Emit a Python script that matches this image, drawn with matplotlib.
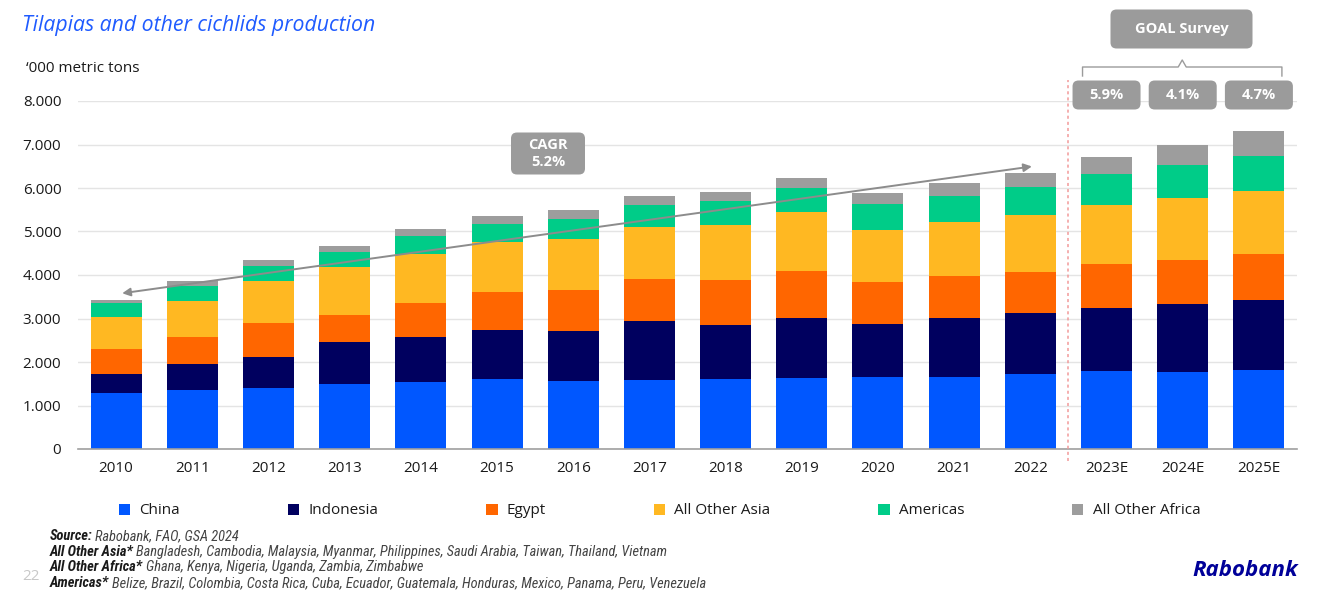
import matplotlib
matplotlib.use("Agg")
import matplotlib.pyplot as plt
from matplotlib import font_manager
from matplotlib.patches import FancyBboxPatch
from matplotlib.lines import Line2D
from matplotlib.transforms import Affine2D
from matplotlib.ticker import FuncFormatter
import numpy as np

W, H = 1340, 606

years = ["2010", "2011", "2012", "2013", "2014", "2015", "2016", "2017",
         "2018", "2019", "2020", "2021", "2022", "2023E", "2024E", "2025E"]
china = [1290, 1350, 1410, 1500, 1535, 1610, 1555, 1580,
         1615, 1640, 1650, 1655, 1730, 1785, 1765, 1815]
indonesia = [440, 610, 710, 950, 1035, 1120, 1155, 1355,
             1230, 1380, 1225, 1355, 1390, 1460, 1565, 1600]
egypt = [570, 605, 770, 630, 775, 880, 935, 970,
         1050, 1080, 960, 975, 955, 1005, 1015, 1060]
other_asia = [735, 840, 970, 1100, 1145, 1155, 1180, 1195,
              1255, 1340, 1195, 1240, 1295, 1370, 1425, 1460]
americas = [320, 340, 340, 345, 415, 405, 460, 505,
            545, 565, 600, 600, 660, 705, 750, 805]
other_africa = [75, 110, 150, 140, 160, 190, 205, 200,
                215, 215, 245, 290, 305, 390, 475, 570]

series_names = ["China", "Indonesia", "Egypt", "All Other Asia", "Americas", "All Other Africa"]
series_colors = ["#0057FF", "#00005F", "#FF6600", "#FFB822", "#00CC88", "#9D9D9D"]

cagr_label = "CAGR\n5.2%"
survey_label = "GOAL Survey"
survey_growth = ["5.9%", "4.1%", "4.7%"]

footer = [
    ("Source:", "Rabobank, FAO, GSA 2024"),
    ("All Other Asia*", "Bangladesh, Cambodia, Malaysia, Myanmar, Philippines, Saudi Arabia, Taiwan, Thailand, Vietnam"),
    ("All Other Africa*", "Ghana, Kenya, Nigeria, Uganda, Zambia, Zimbabwe"),
    ("Americas*", "Belize, Brazil, Colombia, Costa Rica, Cuba, Ecuador, Guatemala, Honduras, Mexico, Panama, Peru, Venezuela"),
]


def pick_font(names):
    for n in names:
        try:
            font_manager.findfont(n, fallback_to_default=False)
            return n
        except ValueError:
            continue
    return "DejaVu Sans"


main_font = pick_font(["Open Sans", "Lato", "DejaVu Sans"])
narrow_font = pick_font(["Liberation Sans Narrow", "Roboto Condensed", "Liberation Sans"])
plt.rcParams["font.family"] = main_font

fig = plt.figure(figsize=(W / 100, H / 100), dpi=100)
# pixel coordinates with the origin at the top-left corner
px = Affine2D().scale(1, -1).translate(0, H)

ax = fig.add_axes([78 / W, 1 - 449 / H, (1297 - 78) / W, (449 - 101) / H])

x = np.arange(len(years))
bottom = np.zeros(len(years))
handles = []
for name, vals, col in zip(series_names,
                           [china, indonesia, egypt, other_asia, americas, other_africa],
                           series_colors):
    b = ax.bar(x, vals, width=0.67, bottom=bottom, color=col, label=name, zorder=3)
    handles.append(b)
    bottom += np.array(vals)

ax.set_xlim(-0.5, len(years) - 0.5)
ax.set_ylim(0, 8000)
ax.set_yticks(range(0, 8001, 1000))
ax.yaxis.set_major_formatter(FuncFormatter(lambda v, p: f"{int(v):,}".replace(",", ".")))
ax.set_xticks(x)
ax.set_xticklabels(years)
ax.tick_params(axis="both", length=0, labelsize=11, colors="#1a1a1a")
ax.tick_params(axis="y", pad=12)
ax.tick_params(axis="x", pad=9)
ax.grid(axis="y", color="#E4E4E4", lw=1, zorder=0)
for s in ["top", "right", "left"]:
    ax.spines[s].set_visible(False)
ax.spines["bottom"].set_color("#A0A0A0")
ax.spines["bottom"].set_linewidth(1.2)
ax.spines["bottom"].set_zorder(4)

# actual / forecast separator
ax.plot([12.5, 12.5], [-270, 8480], color="#F29A9A", lw=1.1, ls=(0, (2, 2)),
        clip_on=False, zorder=5)

# CAGR arrow
ax.annotate("", xy=(0.08, bottom[0] + 150), xytext=(12.02, bottom[12] + 160),
            arrowprops=dict(arrowstyle="<|-|>", color="#8C8C8C", lw=1.4,
                            mutation_scale=12, shrinkA=0, shrinkB=0),
            annotation_clip=False, zorder=6)


def box(cx, cy, w, h, text, size):
    p = FancyBboxPatch((cx - w / 2, cy - h / 2), w, h,
                       boxstyle="round,pad=0,rounding_size=6",
                       transform=px, fc="#9B9B9B", ec="none")
    fig.add_artist(p)
    fig.text(cx, cy, text, transform=px, ha="center", va="center", color="white",
             fontsize=size, fontweight="bold", linespacing=1.3)


box(548, 153.5, 74, 42, cagr_label, 10.5)
box(1181.5, 29, 142, 39, survey_label, 10.5)


def bar_px(i):
    return ax.transData.transform((i, 0))[0]


fc_idx = [13, 14, 15]
for i, lab in zip(fc_idx, survey_growth):
    box(bar_px(i), 95, 68, 29, lab, 10.5)

# brace above the growth boxes
left, right = bar_px(fc_idx[0]) - 24, bar_px(fc_idx[-1]) + 23
mid = (left + right) / 2
brace = Line2D([left, left, mid - 4, mid, mid + 4, right, right],
               [76, 67, 67, 60, 67, 67, 76],
               transform=px, color="#9B9B9B", lw=1.0)
fig.add_artist(brace)

# titles
fig.text(22, 25, "Tilapias and other cichlids production", transform=px,
         ha="left", va="center", fontsize=15.3, style="italic", color="#1F5BFF")
fig.text(26, 68, "\u2018000 metric tons", transform=px, ha="left", va="center",
         fontsize=11, color="#1a1a1a")

# legend
leg = fig.legend(handles=handles, labels=series_names, ncol=6, frameon=False,
                 loc="center left", bbox_to_anchor=(119 / W, 1 - 511 / H),
                 fontsize=11, handlelength=0.75, handleheight=0.75,
                 handletextpad=0.6, columnspacing=7.05, borderaxespad=0, borderpad=0)
for t in leg.get_texts():
    t.set_color("#1a1a1a")

# footnotes
fig.canvas.draw()
renderer = fig.canvas.get_renderer()
for k, (head, rest) in enumerate(footer):
    yy = 536 + k * 15.6
    t = fig.text(50, yy, head, transform=px, ha="left", va="center", fontsize=10.4,
                 family=narrow_font, style="italic", fontweight="bold", color="#1a1a1a")
    bb = t.get_window_extent(renderer)
    fig.text(bb.x1 + 2.5, yy, rest, transform=px, ha="left", va="center", fontsize=10.4,
             family=narrow_font, style="italic", color="#444444")

fig.text(22, 577, "22", transform=px, ha="left", va="center", fontsize=11, color="#C8C8C8")
fig.text(1298, 570, "Rabobank", transform=px, ha="right", va="center", fontsize=16,
         style="italic", fontweight="bold", color="#000099")

fig.savefig("out.png", dpi=100)
